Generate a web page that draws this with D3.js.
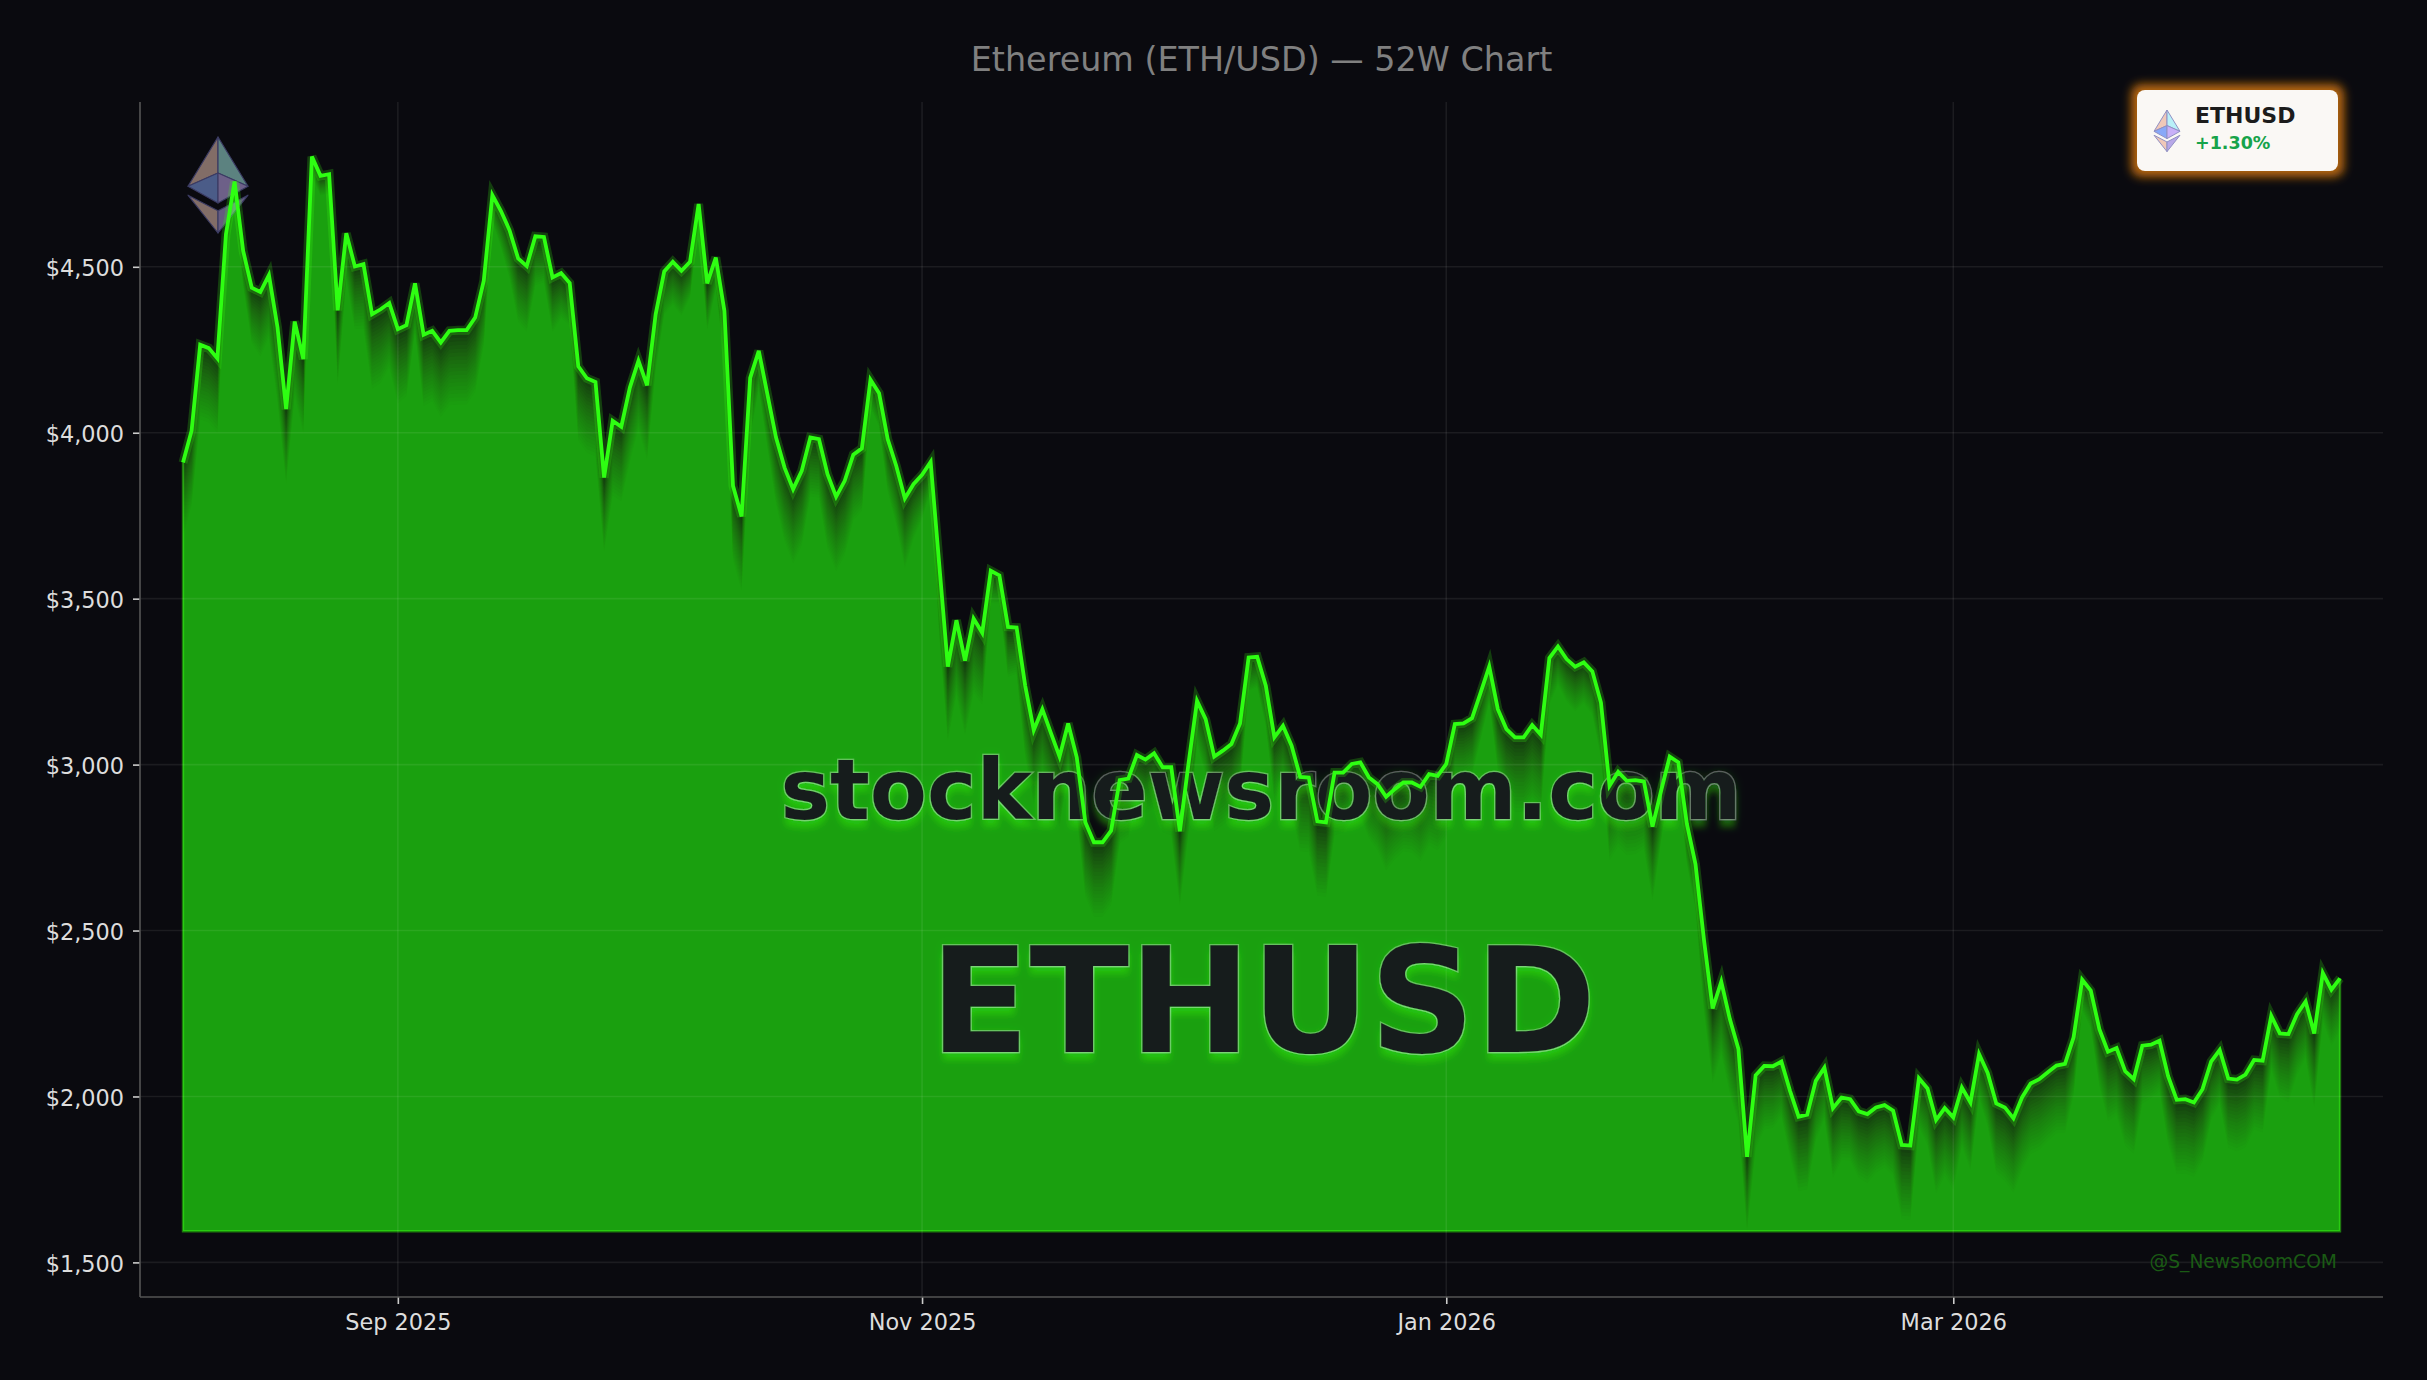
<!DOCTYPE html>
<html><head><meta charset="utf-8">
<script src="https://cdn.jsdelivr.net/npm/d3@7"></script>
<style>
html,body{margin:0;padding:0;background:#0a0a0f;overflow:hidden}
svg{display:block}
text{font-family:"DejaVu Sans",sans-serif}
</style></head><body>
<svg id="c" width="2427" height="1380"></svg>
<script>
const startDate = "2025-08-07";
const closes = [
3910,4006,4265,4255,4224,4598,4757,4548,4437,4424,4475,4317,4071,4335,4222,4832,4774,4779,4369,4601,
4501,4508,4357,4372,4391,4312,4324,4450,4295,4307,4272,4307,4309,4309,4347,4458,4716,4668,4610,4525,
4502,4592,4590,4468,4481,4451,4200,4164,4153,3865,4036,4018,4136,4217,4143,4357,4486,4515,4488,4515,
4689,4450,4528,4367,3840,3748,4165,4247,4116,3986,3895,3830,3885,3986,3981,3875,3807,3855,3934,3953,
4160,4119,3981,3900,3802,3845,3873,3912,3603,3295,3435,3313,3440,3397,3584,3570,3415,3413,3238,3104,
3167,3095,3024,3124,3022,2826,2766,2766,2801,2953,2958,3029,3015,3034,2992,2992,2799,3002,3192,3137,
3024,3042,3062,3124,3323,3325,3238,3082,3117,3057,2963,2961,2829,2826,2976,2976,3002,3007,2961,2941,
2903,2926,2946,2946,2933,2971,2966,3002,3122,3124,3140,3217,3296,3167,3107,3082,3082,3119,3090,3321,
3356,3318,3295,3308,3281,3187,2936,2978,2951,2953,2949,2813,2921,3024,3007,2821,2700,2469,2265,2346,
2233,2143,1818,2064,2092,2091,2105,2017,1939,1945,2047,2087,1965,1997,1992,1955,1947,1967,1974,1957,
1854,1852,2055,2024,1929,1965,1937,2027,1982,2128,2071,1979,1967,1934,1997,2039,2052,2073,2093,2098,
2178,2352,2319,2203,2135,2146,2076,2052,2153,2156,2168,2061,1990,1992,1982,2022,2105,2140,2054,2051,
2066,2110,2108,2243,2190,2188,2248,2286,2190,2372,2322,2356];
const fillBase = 1594;
const yTicks = [1500,2000,2500,3000,3500,4000,4500];
const xTickDates = ["2025-09-01","2025-11-01","2026-01-01","2026-03-01"];
const xTickLabels = ["Sep 2025","Nov 2025","Jan 2026","Mar 2026"];
const titleText = "Ethereum (ETH/USD) \u2014 52W Chart";

const parse = d3.utcParse("%Y-%m-%d");
const dates = closes.map((_,i)=>d3.utcDay.offset(parse(startDate),i));
const x = d3.scaleUtc().domain(d3.extent(dates)).range([183,2340]);
const y = d3.scaleLinear().domain([1500,4500]).range([1262.4,266.8]);
const L=140,R=2383,T=102,B=1297;
const svg = d3.select("#c");
svg.append("rect").attr("width",2427).attr("height",1380).attr("fill","#0a0a0f");

const defs = svg.append("defs");
const fl = defs.append("filter").attr("id","wm").attr("x","-5%").attr("y","-30%").attr("width","110%").attr("height","170%");
fl.html(`
<feGaussianBlur in="SourceAlpha" stdDeviation="5" result="b0"/>
<feFlood flood-color="#39ff14" flood-opacity="0.16"/><feComposite in2="b0" operator="in" result="g0"/>
<feOffset in="SourceAlpha" dy="8" result="o1"/><feGaussianBlur in="o1" stdDeviation="3" result="b1"/>
<feFlood flood-color="#39ff14" flood-opacity="0.32"/><feComposite in2="b1" operator="in" result="g1"/>
<feMerge><feMergeNode in="g0"/><feMergeNode in="g1"/><feMergeNode in="SourceGraphic"/></feMerge>`);
const gl = defs.append("filter").attr("id","badgeGlow").attr("x","-20%").attr("y","-40%").attr("width","140%").attr("height","180%");
gl.html(`<feGaussianBlur stdDeviation="5"/>`);

// Local shape factor for the fading layers
const win=6;
const shape = closes.map((v,i)=>{
  const m=d3.mean(closes.slice(Math.max(0,i-win),i+win+1));
  return Math.max(.3,Math.min(1.15,1-(v-m)/400));
});
const depth=195, N=20, layerA=0.0386;
const fillColor="rgb(62,255,14)";
const gFill=svg.append("g");
gFill.append("path")
  .attr("d",d3.area().x((d,i)=>x(dates[i])).y0(y(fillBase)).y1(d=>y(d))(closes))
  .attr("fill",fillColor).attr("fill-opacity",0.2);
d3.range(1,N+1).forEach(k=>{
  const t=k/N;
  const area=d3.area().x((d,i)=>x(dates[i])).y0(y(fillBase)).y1((d,i)=>y(d-t*depth*shape[i]));
  gFill.append("path").attr("d",area(closes)).attr("fill",fillColor).attr("fill-opacity",layerA);
});
// fill outline: base and sides
gFill.append("path")
  .attr("d",d3.line()([[x(dates[0]),y(closes[0])],[x(dates[0]),y(fillBase)],[x(dates[dates.length-1]),y(fillBase)],[x(dates[dates.length-1]),y(closes[closes.length-1])]]))
  .attr("fill","none").attr("stroke","#39ff14").attr("stroke-opacity",0.45).attr("stroke-width",2.4);

// grid
const grid=svg.append("g").attr("stroke","#ffffff").attr("stroke-opacity",0.075).attr("stroke-width",1.6);
yTicks.forEach(v=>grid.append("line").attr("x1",L).attr("x2",R).attr("y1",y(v)).attr("y2",y(v)));
xTickDates.forEach(d=>grid.append("line").attr("x1",x(parse(d))).attr("x2",x(parse(d))).attr("y1",T).attr("y2",B));

// ethereum logo
const ethFacets=[
 [[0,0],[0,.6],[-.5,.82]],
 [[0,0],[.5,.82],[0,.6]],
 [[-.5,.82],[0,.6],[0,1.1]],
 [[.5,.82],[0,.6],[0,1.1]],
 [[-.5,.97],[0,1.23],[0,1.6]],
 [[.5,.97],[0,1.23],[0,1.6]]];
function eth(parent,cx,top,w,colors,edge,edgeW,op){
  const g=parent.append("g").attr("transform",`translate(${cx},${top}) scale(${w})`).attr("opacity",op);
  ethFacets.forEach((f,i)=>g.append("polygon").attr("points",f.map(p=>p.join(",")).join(" "))
    .attr("fill",colors[i]).attr("stroke",edge).attr("stroke-width",edgeW/w).attr("stroke-linejoin","round"));
}
eth(svg,218,137,60,["#f0c8b8","#a8f0e8","#88a8f8","#c8b0f8","#f0c8b8","#b8a8e8"],"#6868b0",1.2,0.52);

// watermarks
svg.append("text").attr("x",1261).attr("y",819).attr("text-anchor","middle")
  .attr("font-size",83.3).attr("font-weight","bold").attr("fill","#191d1e")
  .attr("stroke","#ffffff").attr("stroke-opacity",0.3).attr("stroke-width",2.5).attr("paint-order","stroke")
  .attr("filter","url(#wm)").text("stocknewsroom.com");
svg.append("text").attr("x",1263).attr("y",1052).attr("text-anchor","middle")
  .attr("font-size",146).attr("font-weight","bold").attr("fill","#191d1e")
  .attr("stroke","#ffffff").attr("stroke-opacity",0.3).attr("stroke-width",2.5).attr("paint-order","stroke")
  .attr("filter","url(#wm)").text("ETHUSD");

// line
const line=d3.line().x((d,i)=>x(dates[i])).y(d=>y(d));
svg.append("path").attr("d",line(closes)).attr("fill","none").attr("stroke","#39ff14")
  .attr("stroke-opacity",0.22).attr("stroke-width",9).attr("stroke-linejoin","miter");
svg.append("path").attr("d",line(closes)).attr("fill","none").attr("stroke","#2eff12")
  .attr("stroke-width",3.8).attr("stroke-linejoin","miter");

// axes
const xAxis=d3.axisBottom(x).tickValues(xTickDates.map(parse)).tickFormat((d,i)=>xTickLabels[i]).tickSize(7).tickPadding(10.5);
const yAxis=d3.axisLeft(y).tickValues(yTicks).tickFormat(d=>"$"+d3.format(",")(d)).tickSize(7).tickPadding(9);
const gx=svg.append("g").attr("transform",`translate(0,${B})`).call(xAxis);
const gy=svg.append("g").attr("transform",`translate(${L},0)`).call(yAxis);
[gx,gy].forEach(g=>{
  g.selectAll(".domain").remove();
  g.selectAll("line").attr("stroke","#cccccc").attr("stroke-width",1.6);
  g.selectAll("text").attr("fill","#dddddd").attr("font-size",22.4).attr("font-family",'"DejaVu Sans",sans-serif');
});
gy.selectAll("text").attr("dy","0.39em");
svg.append("line").attr("x1",L).attr("x2",L).attr("y1",T).attr("y2",B).attr("stroke","#555").attr("stroke-width",1.6);
svg.append("line").attr("x1",L).attr("x2",R).attr("y1",B).attr("y2",B).attr("stroke","#555").attr("stroke-width",1.6);

// title + handle
svg.append("text").attr("x",1261.5).attr("y",71).attr("text-anchor","middle").attr("font-size",33.4).attr("fill","#808080").text(titleText);
svg.append("text").attr("x",2337).attr("y",1268).attr("text-anchor","end").attr("font-size",18.7).attr("fill","#1a5a14").text("@S_NewsRoomCOM");

// badge
svg.append("rect").attr("x",2131).attr("y",84).attr("width",213).attr("height",93).attr("rx",10)
  .attr("fill","#c87010").attr("fill-opacity",0.9).attr("filter","url(#badgeGlow)");
svg.append("rect").attr("x",2137).attr("y",90).attr("width",201).attr("height",81).attr("rx",8).attr("fill","#faf8f5");
eth(svg,2167,110,26,["#f0c8b8","#b8f0f8","#88a8f8","#c8b0f8","#f0c8b8","#b8a8e8"],"#9090c4",1,1);
svg.append("text").attr("x",2195).attr("y",123).attr("font-size",22).attr("font-weight","bold").attr("fill","#1c1c1c").text("ETHUSD");
svg.append("text").attr("x",2195).attr("y",149).attr("font-size",17.5).attr("font-weight","bold").attr("fill","#16a34a").text("+1.30%");
</script></body></html>
